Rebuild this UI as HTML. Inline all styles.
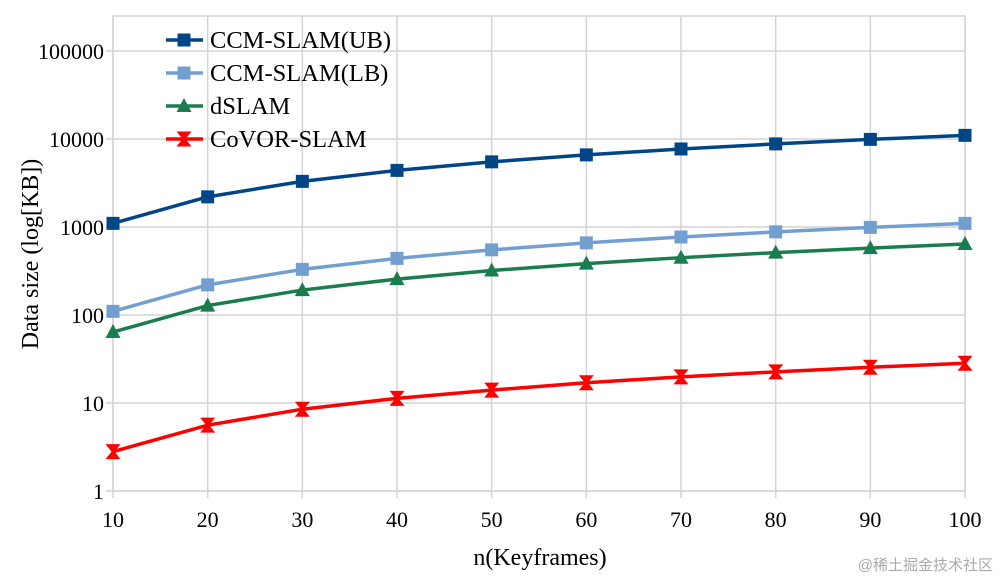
<!DOCTYPE html>
<html><head><meta charset="utf-8"><style>
body{margin:0;background:#fff;}
svg{display:block;font-family:"Liberation Serif","Noto Serif CJK SC",serif;}
</style></head><body>
<svg id="c" width="1001" height="580" viewBox="0 0 1001 580">
<g id="grid"></g><g id="series"></g><g id="legend"></g>
<text x="540" y="565" font-size="24" text-anchor="middle">n(Keyframes)</text>
<text transform="translate(38,254) rotate(-90)" font-size="24" text-anchor="middle">Data size (log[KB])</text>
<text x="993" y="570" font-size="15" fill="#aaa" text-anchor="end" font-family="'Liberation Sans','Noto Sans CJK SC',sans-serif">@稀土掘金技术社区</text>
</svg>
<script>
const categories=[10,20,30,40,50,60,70,80,90,100];
const ub=[1100,2200,3300,4400,5500,6600,7700,8800,9900,11000];
const lb=[110,220,330,440,550,660,770,880,990,1100];
const dslam=[64,128,192,256,320,384,448,512,576,640];
const covor=[2.8,5.6,8.5,11.3,14,17,19.8,22.6,25.5,28.3];
const yTicks=[1,10,100,1000,10000,100000];
const seriesNames=["CCM-SLAM(UB)","CCM-SLAM(LB)","dSLAM","CoVOR-SLAM"];
const NS="http://www.w3.org/2000/svg";
const L=113,R=965,T=16,B=491;
const x=v=>L+(v-10)/90*(R-L);
const y=v=>B-Math.log10(v)*88;
function mk(tag,attrs,parent){const e=document.createElementNS(NS,tag);for(const k in attrs)e.setAttribute(k,attrs[k]);parent.appendChild(e);return e;}
const g=document.getElementById('grid');
const rect=mk('rect',{x:L,y:T,width:R-L,height:B-T,fill:'none',stroke:'#d4d4d4','stroke-width':1.5},g);


categories.forEach(c=>{
 const ln=mk('line',{x1:x(c),x2:x(c),y1:T,y2:B+7,stroke:'#d4d4d4','stroke-width':1.5},g);
 
 
 const t=mk('text',{x:x(c),y:B+36,'font-size':22,'text-anchor':'middle'},g);t.textContent=c;
 
 
});
yTicks.forEach(v=>{
 const ln=mk('line',{x1:L-7,x2:R,y1:y(v),y2:y(v),stroke:'#d4d4d4','stroke-width':1.5},g);
 
 
 const t=mk('text',{x:L-9,y:y(v)+8,'font-size':22,'text-anchor':'end'},g);t.textContent=v;
 
 
});
function marker(kind,cx,cy,col,parent){
 if(kind==='sq')return mk('rect',{x:cx-6.5,y:cy-6.5,width:13,height:13,fill:col},parent);
 if(kind==='tri')return mk('path',{d:`M${cx},${cy-8}L${cx+7.5},${cy+6}L${cx-7.5},${cy+6}Z`,fill:col},parent);
 return mk('path',{d:`M${cx-7.5},${cy-7.5}H${cx+7.5}L${cx+1.5},${cy}L${cx+7.5},${cy+7.5}H${cx-7.5}L${cx-1.5},${cy}Z`,fill:col},parent);
}
const defs=[[ub,'#004586','sq','series-ccm-slam-ub'],[lb,'#729fcf','sq','series-ccm-slam-lb'],[dslam,'#1b7d4f','tri','series-dslam'],[covor,'#ff0000','x','series-covor-slam']];
const sg=document.getElementById('series');
defs.forEach(([vals,col,kind,name])=>{
 const grp=mk('g',{},sg);
 
 
 const p=mk('polyline',{points:vals.map((v,i)=>x(categories[i])+','+y(v)).join(' '),fill:'none',stroke:col,'stroke-width':3.5},grp);
 
 
 vals.forEach((v,i)=>{const m=marker(kind,x(categories[i]),y(v),col,grp);
  
  });
});
const lg=document.getElementById('legend');
defs.forEach(([vals,col,kind],i)=>{
 const cy=40+i*33;
 const e=mk('g',{},lg);
 
 
 mk('line',{x1:166,x2:203,y1:cy,y2:cy,stroke:col,'stroke-width':3.5},e);
 marker(kind,184,cy,col,e);
 const t=mk('text',{x:210,y:cy+8,'font-size':24.5},e);t.textContent=seriesNames[i];
});
</script>
</body></html>
